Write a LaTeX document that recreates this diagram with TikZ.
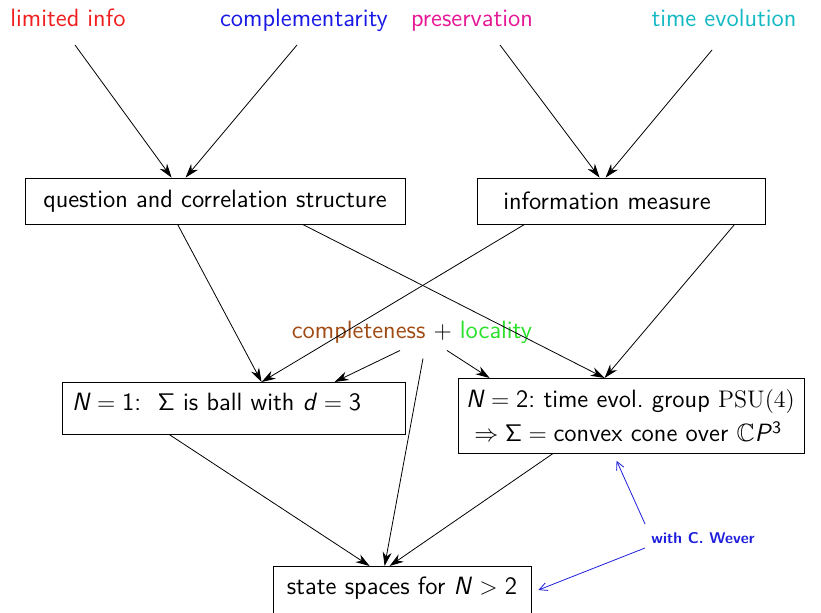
\documentclass[tikz,border=0pt]{standalone}
\usepackage{amssymb}
\usetikzlibrary{arrows.meta}
\definecolor{cred}{RGB}{240,30,30}
\definecolor{cblue}{RGB}{25,25,230}
\definecolor{cmag}{RGB}{230,25,150}
\definecolor{ccyan}{RGB}{20,185,195}
\definecolor{cbrown}{RGB}{160,75,20}
\definecolor{cgreen}{RGB}{40,225,40}
\definecolor{cwever}{RGB}{30,30,220}
\newcommand{\Nit}{\textit{N}}
\begin{document}
\begin{tikzpicture}[x=0.5pt,y=-0.5pt,
  every node/.style={font=\sffamily\fontsize{12.5}{17}\selectfont},
  lbl/.style={inner sep=0pt,anchor=base},
  box/.style={draw,rectangle,inner sep=5pt},
  onebox/.style={draw,rectangle,anchor=north,inner xsep=5pt,inner ysep=4pt,
    text height=10pt,text depth=8pt,align=left},
  arr/.style={-{Stealth[length=7pt,width=4.5pt]}},
  warr/.style={cwever,line width=0.4pt,-{Straight Barb[length=4pt,width=4pt]}}]
\useasboundingbox (0,0) rectangle (821,613);

% principles
\node[lbl,text=cred]   (lim)  at (68,27)  {limited info};
\node[lbl,text=cblue]  (comp) at (304,27) {complementarity};
\node[lbl,text=cmag]   (pres) at (472,27) {preservation};
\node[lbl,text=ccyan]  (time) at (724,27) {time evolution};
\coordinate (limE)  at (75,45);
\coordinate (compE) at (297,45);
\coordinate (presE) at (500,45);
\coordinate (timeE) at (712,50);

% structures
\node[box,minimum width=190pt,minimum height=23pt] (Q) at (215,201)
  {question and correlation structure};
\node[box,minimum width=144pt,minimum height=23pt] (I) at (621,201)
  {information measure\hspace*{14pt}};

% extra assumptions
\node[lbl] (C) at (412,339)
  {\textcolor{cbrown}{completeness} $+$ \textcolor{cgreen}{locality}};

% results
\node[onebox,minimum width=171.5pt,text width=161.5pt] (N1) at (233.5,382)
  {\Nit${}={}$1:\ \ $\mathsf{\Sigma}$ is ball with \textit{d}${}={}$3};
\node[box,anchor=north,minimum width=173pt,minimum height=37.5pt,text width=165pt,align=left,inner xsep=4pt,inner ysep=3pt] (N2) at (631,378)
  {\Nit${}={}$2:\ time evol.\ group $\mathrm{PSU}(4)$\\
   \ $\Rightarrow\mathsf{\Sigma}={}$convex cone over $\mathbb{C}$\textit{P}\textsuperscript{3}};
\node[onebox,minimum width=129pt,text width=119pt,align=center,text depth=12pt] (S) at (402,566)
  {state spaces for \Nit${}>{}$2};

\node[lbl,anchor=center,text=cwever,font=\sffamily\bfseries\fontsize{7.8}{9}\selectfont] (W) at (703,538) {with C. Wever};

% connectors
\draw[arr] (limE)  -- ([xshift=73.5pt]Q.north west);
\draw[arr] (compE) -- ([xshift=80.5pt]Q.north west);
\draw[arr] (presE) -- ([xshift=61.5pt]I.north west);
\draw[arr] (timeE) -- ([xshift=64.5pt]I.north west);

\draw[arr] ([xshift=76.5pt]Q.south west) -- ([xshift=100pt]N1.north west);
\draw[arr] ([xshift=139pt]Q.south west)  -- ([xshift=73.5pt]N2.north west);
\draw[arr] ([xshift=24pt]I.south west)   -- ([xshift=100pt]N1.north west);
\draw[arr] ([xshift=129pt]I.south west)  -- ([xshift=73.5pt]N2.north west);

\draw[arr] ([xshift=-6pt,yshift=-3pt]C.south) -- ([xshift=136.5pt]N1.north west);
\draw[arr] ([xshift=17.5pt,yshift=-3pt]C.south) -- ([xshift=16pt]N2.north west);
\draw[arr] ([xshift=5.5pt,yshift=-7pt]C.south) -- ([xshift=56pt]S.north west);

\draw[arr] ([xshift=54pt]N1.south west) -- ([xshift=48.5pt]S.north west);
\draw[arr] ([xshift=47.5pt]N2.south west) -- ([xshift=58.5pt]S.north west);

\draw[warr] ([xshift=-3pt,yshift=7pt]W.west) -- ([xshift=79.5pt,yshift=-3.5pt]N2.south west);
\draw[warr] ([xshift=-3pt,yshift=-5pt]W.west) -- ([xshift=3.5pt,yshift=-12pt]S.north east);
\end{tikzpicture}
\end{document}
